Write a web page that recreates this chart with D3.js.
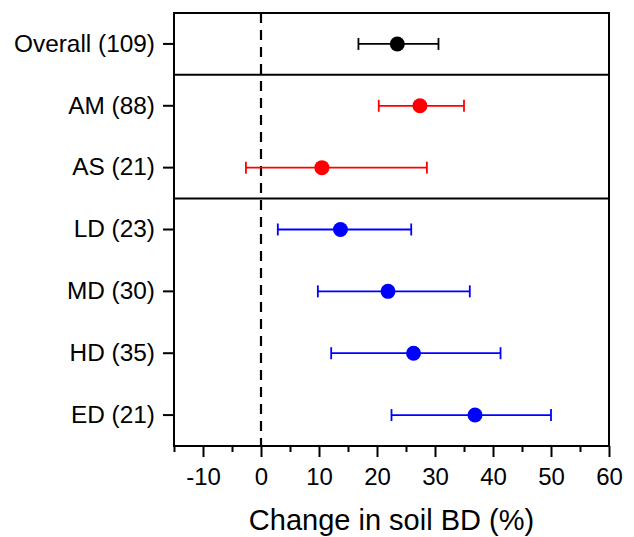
<!DOCTYPE html>
<html>
<head>
<meta charset="utf-8">
<script src="https://cdn.jsdelivr.net/npm/d3@7"></script>
<style>
  body { margin: 0; background: #fff; }
  text { font-family: "Liberation Sans", Arial, sans-serif; fill: #000; }
</style>
</head>
<body>
<div id="chart"></div>
<script>
// data
var groups = ["Overall (109)", "AM (88)", "AS (21)", "LD (23)", "MD (30)", "HD (35)", "ED (21)"];
var means = [23.5, 27.4, 10.5, 13.7, 21.9, 26.3, 36.9];
var lows = [16.8, 20.3, -2.6, 2.9, 9.8, 12.1, 22.5];
var highs = [30.6, 35.0, 28.6, 25.9, 36.0, 41.3, 50.0];
var colors = ["#000000", "#ff0000", "#ff0000", "#0000ff", "#0000ff", "#0000ff", "#0000ff"];
var xTicks = [-10, 0, 10, 20, 30, 40, 50, 60];
var xMinorTicks = [-15, -5, 5, 15, 25, 35, 45, 55];
var separators = [1, 3]; // lines drawn above these rows

var W = 634, H = 537;
var margin = { top: 13, right: 25, bottom: 91, left: 174 };
var chartWidth = W - margin.left - margin.right;
var chartHeight = H - margin.top - margin.bottom;

var svg = d3.select("#chart").append("svg")
    .attr("width", W)
    .attr("height", H);

var g = svg.append("g")
    .attr("transform", `translate(${margin.left}, ${margin.top})`);

var x = d3.scaleLinear().domain([-15, 60]).range([0, chartWidth]);
var y = d3.scaleBand().domain(groups).range([0, chartHeight]).paddingOuter(0).paddingInner(0);
var yc = d => y(d) + y.bandwidth() / 2;

// zero line
g.append("line")
    .attr("x1", x(0)).attr("x2", x(0))
    .attr("y1", 0).attr("y2", chartHeight)
    .attr("stroke", "#000")
    .attr("stroke-width", 2.2)
    .attr("stroke-dasharray", "10,7");

// separators
separators.forEach(function(i) {
    g.append("line")
        .attr("x1", 0).attr("x2", chartWidth)
        .attr("y1", y(groups[i])).attr("y2", y(groups[i]))
        .attr("stroke", "#000")
        .attr("stroke-width", 2);
});

// error bars
var rows = groups.map((d, i) => ({ name: d, m: means[i], lo: lows[i], hi: highs[i], c: colors[i] }));
var bars = g.append("g").selectAll("g").data(rows).enter().append("g");

bars.append("line")
    .attr("x1", d => x(d.lo)).attr("x2", d => x(d.hi))
    .attr("y1", d => yc(d.name)).attr("y2", d => yc(d.name))
    .attr("stroke", d => d.c).attr("stroke-width", 1.8);
bars.append("line")
    .attr("x1", d => x(d.lo)).attr("x2", d => x(d.lo))
    .attr("y1", d => yc(d.name) - 6).attr("y2", d => yc(d.name) + 6)
    .attr("stroke", d => d.c).attr("stroke-width", 1.8);
bars.append("line")
    .attr("x1", d => x(d.hi)).attr("x2", d => x(d.hi))
    .attr("y1", d => yc(d.name) - 6).attr("y2", d => yc(d.name) + 6)
    .attr("stroke", d => d.c).attr("stroke-width", 1.8);
bars.append("circle")
    .attr("cx", d => x(d.m)).attr("cy", d => yc(d.name))
    .attr("r", 7.5)
    .attr("fill", d => d.c);

// axes
var bottom_axis = d3.axisBottom(x).tickValues(xTicks).tickSize(11).tickPadding(11)
    .tickFormat(d => d < 0 ? "-" + Math.abs(d) : d);
var xAxis = g.append("g")
    .attr("transform", `translate(0, ${chartHeight})`)
    .call(bottom_axis);
xAxis.select(".domain").remove();
xAxis.selectAll("line").attr("stroke", "#000").attr("stroke-width", 2);
xAxis.selectAll("text").attr("font-size", 24).attr("font-family", "Liberation Sans, Arial, sans-serif");

var minor = g.append("g")
    .attr("transform", `translate(0, ${chartHeight})`)
    .call(d3.axisBottom(x).tickValues(xMinorTicks).tickSize(6).tickFormat(""));
minor.select(".domain").remove();
minor.selectAll("line").attr("stroke", "#000").attr("stroke-width", 2);

var left_axis = d3.axisLeft(y).tickSize(11).tickPadding(8);
var yAxis = g.append("g").call(left_axis);
yAxis.select(".domain").remove();
yAxis.selectAll("line").attr("stroke", "#000").attr("stroke-width", 2);
yAxis.selectAll("text").attr("font-size", 24.4).attr("font-family", "Liberation Sans, Arial, sans-serif");

// frame
g.append("rect")
    .attr("x", 0).attr("y", 0)
    .attr("width", chartWidth).attr("height", chartHeight)
    .attr("fill", "none")
    .attr("stroke", "#000")
    .attr("stroke-width", 2);

// axis title
g.append("text")
    .attr("x", chartWidth / 2)
    .attr("y", chartHeight + 84)
    .attr("text-anchor", "middle")
    .attr("font-size", 29)
    .text("Change in soil BD (%)");
</script>
</body>
</html>
